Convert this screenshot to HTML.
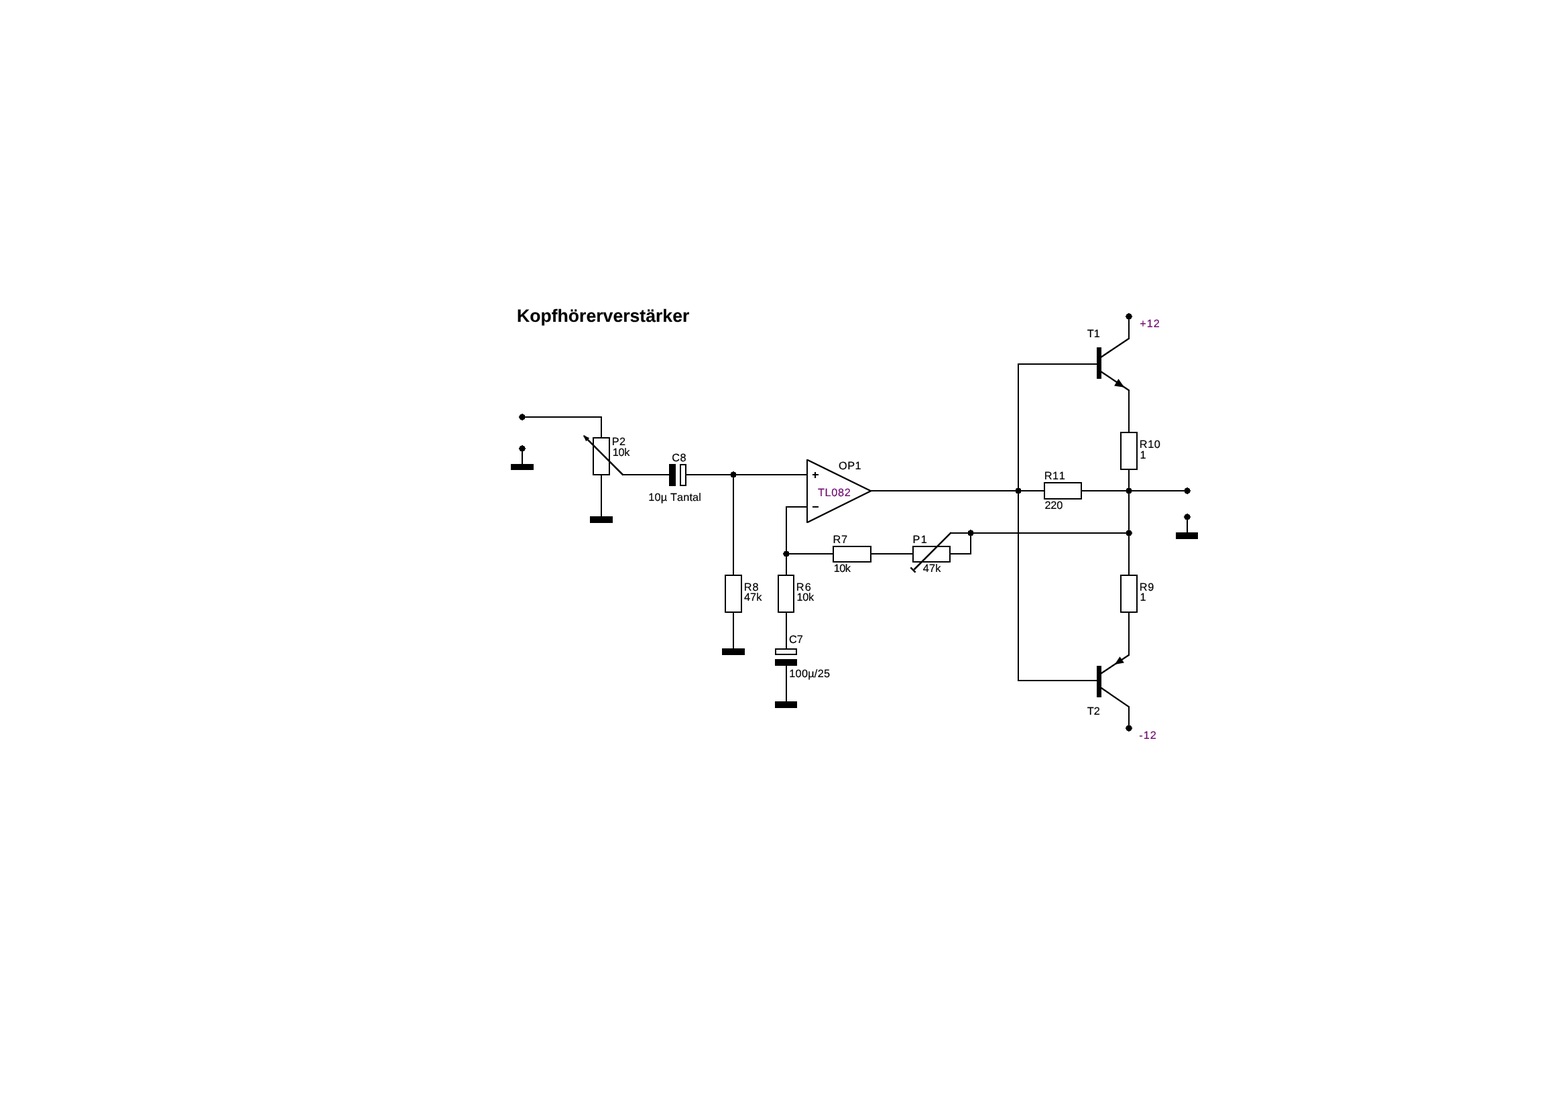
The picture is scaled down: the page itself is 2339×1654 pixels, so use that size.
<!DOCTYPE html>
<html lang="de"><head><meta charset="utf-8"><title>Kopfhörerverstärker</title>
<style>
html,body{margin:0;padding:0;background:#fff;}
body{width:2339px;height:1654px;overflow:hidden;}
svg{display:block;will-change:transform;}
text{font-family:"Liberation Sans",sans-serif;font-kerning:none;font-variant-ligatures:none;text-rendering:geometricPrecision;}
</style></head><body>
<svg width="2339" height="1654" viewBox="0 0 2339 1654">
<path d="M778,617h2v1h2v1h1v2h1v2h-1v2h-1v1h-2v1h-2v-1h-2v-1h-1v-2h-1v-2h1v-2h1v-1h2z" fill="#000"/>
<polyline points="779,622 897,622 897,653" stroke="#000" stroke-width="2" stroke-linejoin="miter" fill="none"/>
<path d="M778,664h2v1h2v1h1v2h1v2h-1v2h-1v1h-2v1h-2v-1h-2v-1h-1v-2h-1v-2h1v-2h1v-1h2z" fill="#000"/>
<line x1="779" y1="669" x2="779" y2="693" stroke="#000" stroke-width="2" />
<rect x="762" y="692" width="34" height="9" fill="#000"/>
<rect x="885.0" y="653.0" width="24" height="55" fill="#fff" stroke="#000" stroke-width="2"/>
<line x1="897" y1="708" x2="897" y2="771" stroke="#000" stroke-width="2" />
<rect x="880" y="770" width="34" height="10" fill="#000"/>
<line x1="1000" y1="708" x2="928.5" y2="708" stroke="#000" stroke-width="2" />
<line x1="929.5" y1="708.5" x2="871" y2="650" stroke="#000" stroke-width="2.5" />
<polygon points="870,649 874.2,658.2 879.2,653.2" fill="#000"/>
<rect x="998" y="692" width="10" height="33" fill="#000"/>
<rect x="1015.0" y="693.0" width="8" height="31" fill="#fff" stroke="#000" stroke-width="2"/>
<line x1="1024" y1="708" x2="1204" y2="708" stroke="#000" stroke-width="2" />
<path d="M1093,703h2v1h2v1h1v2h1v2h-1v2h-1v1h-2v1h-2v-1h-2v-1h-1v-2h-1v-2h1v-2h1v-1h2z" fill="#000"/>
<line x1="1094" y1="708" x2="1094" y2="858" stroke="#000" stroke-width="2" />
<rect x="1082.0" y="858.0" width="24" height="55" fill="#fff" stroke="#000" stroke-width="2"/>
<line x1="1094" y1="913" x2="1094" y2="968" stroke="#000" stroke-width="2" />
<rect x="1077" y="967" width="34" height="10" fill="#000"/>
<line x1="1204" y1="685" x2="1204" y2="780" stroke="#000" stroke-width="2" />
<clipPath id="opc"><rect x="1203" y="685" width="110" height="95"/></clipPath>
<polyline points="1201,684.2 1299.0,732.3 1201,780.8" fill="none" stroke="#000" stroke-width="2.3" stroke-linejoin="miter" stroke-miterlimit="10" clip-path="url(#opc)"/>
<rect x="1212" y="707" width="9" height="2" fill="#000"/>
<rect x="1215" y="704" width="2" height="9" fill="#000"/>
<rect x="1212" y="755" width="9" height="2" fill="#000"/>
<polyline points="1204,756 1173,756 1173,858" stroke="#000" stroke-width="2" stroke-linejoin="miter" fill="none"/>
<path d="M1172,821h2v1h2v1h1v2h1v2h-1v2h-1v1h-2v1h-2v-1h-2v-1h-1v-2h-1v-2h1v-2h1v-1h2z" fill="#000"/>
<line x1="1173" y1="826" x2="1243" y2="826" stroke="#000" stroke-width="2" />
<rect x="1243.0" y="815.0" width="56" height="23" fill="#fff" stroke="#000" stroke-width="2"/>
<line x1="1299" y1="826" x2="1362" y2="826" stroke="#000" stroke-width="2" />
<rect x="1362.0" y="815.0" width="55" height="23" fill="#fff" stroke="#000" stroke-width="2"/>
<polyline points="1417,826 1448,826 1448,795" stroke="#000" stroke-width="2" stroke-linejoin="miter" fill="none"/>
<path d="M1447,790h2v1h2v1h1v2h1v2h-1v2h-1v1h-2v1h-2v-1h-2v-1h-1v-2h-1v-2h1v-2h1v-1h2z" fill="#000"/>
<line x1="1684" y1="795" x2="1418" y2="795" stroke="#000" stroke-width="2" />
<line x1="1418.9" y1="794.1" x2="1363.5" y2="849.5" stroke="#000" stroke-width="2.5" />
<line x1="1358.4" y1="846.3" x2="1365.6" y2="853.7" stroke="#000" stroke-width="2.5" />
<rect x="1161.0" y="858.0" width="23" height="55" fill="#fff" stroke="#000" stroke-width="2"/>
<line x1="1173" y1="913" x2="1173" y2="968" stroke="#000" stroke-width="2" />
<rect x="1157.0" y="968.0" width="31" height="8" fill="#fff" stroke="#000" stroke-width="2"/>
<rect x="1156" y="983" width="33" height="10" fill="#000"/>
<line x1="1173" y1="992" x2="1173" y2="1047" stroke="#000" stroke-width="2" />
<rect x="1156" y="1046" width="33" height="10" fill="#000"/>
<line x1="1297" y1="732" x2="1771" y2="732" stroke="#000" stroke-width="2" />
<path d="M1518,727h2v1h2v1h1v2h1v2h-1v2h-1v1h-2v1h-2v-1h-2v-1h-1v-2h-1v-2h1v-2h1v-1h2z" fill="#000"/>
<path d="M1683,727h2v1h2v1h1v2h1v2h-1v2h-1v1h-2v1h-2v-1h-2v-1h-1v-2h-1v-2h1v-2h1v-1h2z" fill="#000"/>
<path d="M1770,727h2v1h2v1h1v2h1v2h-1v2h-1v1h-2v1h-2v-1h-2v-1h-1v-2h-1v-2h1v-2h1v-1h2z" fill="#000"/>
<rect x="1558.0" y="720.0" width="55" height="24" fill="#fff" stroke="#000" stroke-width="2"/>
<path d="M1683,790h2v1h2v1h1v2h1v2h-1v2h-1v1h-2v1h-2v-1h-2v-1h-1v-2h-1v-2h1v-2h1v-1h2z" fill="#000"/>
<path d="M1770,766h2v1h2v1h1v2h1v2h-1v2h-1v1h-2v1h-2v-1h-2v-1h-1v-2h-1v-2h1v-2h1v-1h2z" fill="#000"/>
<line x1="1771" y1="771" x2="1771" y2="795" stroke="#000" stroke-width="2" />
<rect x="1754" y="794" width="33" height="10" fill="#000"/>
<polyline points="1637,543 1519,543 1519,1015 1637,1015" stroke="#000" stroke-width="2" stroke-linejoin="miter" fill="none"/>
<rect x="1636" y="518" width="7" height="47" fill="#000"/>
<line x1="1684" y1="472" x2="1684" y2="505.4" stroke="#000" stroke-width="2" />
<line x1="1642" y1="533" x2="1684.6" y2="504.4" stroke="#000" stroke-width="2.35" />
<path d="M1683,467h2v1h2v1h1v2h1v2h-1v2h-1v1h-2v1h-2v-1h-2v-1h-1v-2h-1v-2h1v-2h1v-1h2z" fill="#000"/>
<line x1="1684" y1="581.4" x2="1684" y2="645" stroke="#000" stroke-width="2" />
<line x1="1642" y1="554" x2="1684.6" y2="582.4" stroke="#000" stroke-width="2.35" />
<polygon points="1677.3,577.7 1668.4,565 1662.1,575.6" fill="#000"/>
<rect x="1672.0" y="645.0" width="24" height="55" fill="#fff" stroke="#000" stroke-width="2"/>
<line x1="1684" y1="700" x2="1684" y2="858" stroke="#000" stroke-width="2" />
<rect x="1672.0" y="858.0" width="24" height="55" fill="#fff" stroke="#000" stroke-width="2"/>
<rect x="1636" y="993" width="7" height="47" fill="#000"/>
<line x1="1684" y1="913" x2="1684" y2="977.4" stroke="#000" stroke-width="2" />
<line x1="1684.6" y1="976.4" x2="1642" y2="1004.7" stroke="#000" stroke-width="2.35" />
<polygon points="1662.8,990.9 1670.4,979.2 1676.9,988.4" fill="#000"/>
<line x1="1684" y1="1053.6" x2="1684" y2="1086" stroke="#000" stroke-width="2" />
<line x1="1642" y1="1025.5" x2="1684.6" y2="1054.6" stroke="#000" stroke-width="2.35" />
<path d="M1683,1081h2v1h2v1h1v2h1v2h-1v2h-1v1h-2v1h-2v-1h-2v-1h-1v-2h-1v-2h1v-2h1v-1h2z" fill="#000"/>
<text x="771.0" y="480.2" font-size="26.62" fill="#000" stroke="#000" stroke-width="0.15" font-weight="bold">Kopfhörerverstärker</text>
<text x="912.86" y="664.0" font-size="16.3" fill="#000" stroke="#000" stroke-width="0.2" font-weight="normal" letter-spacing="0.33">P2</text>
<text x="913.72" y="680.1" font-size="16.3" fill="#000" stroke="#000" stroke-width="0.2" font-weight="normal" letter-spacing="-0.25">10k</text>
<text x="1002.2" y="687.9" font-size="16.3" fill="#000" stroke="#000" stroke-width="0.2" font-weight="normal" letter-spacing="0.43">C8</text>
<text x="967.33" y="747.2" font-size="16.3" fill="#000" stroke="#000" stroke-width="0.2" font-weight="normal" letter-spacing="0.15">10µ Tantal</text>
<text x="1251.0" y="699.7" font-size="16.3" fill="#000" stroke="#000" stroke-width="0.2" font-weight="normal" letter-spacing="0.49">OP1</text>
<text x="1219.88" y="739.8" font-size="16.3" fill="#700a72" stroke="#700a72" stroke-width="0.2" font-weight="normal" letter-spacing="0.68">TL082</text>
<text x="1242.54" y="810.0" font-size="16.3" fill="#000" stroke="#000" stroke-width="0.2" font-weight="normal" letter-spacing="0.76">R7</text>
<text x="1243.63" y="853.2" font-size="16.3" fill="#000" stroke="#000" stroke-width="0.2" font-weight="normal" letter-spacing="-0.49">10k</text>
<text x="1361.54" y="810.1" font-size="16.3" fill="#000" stroke="#000" stroke-width="0.2" font-weight="normal" letter-spacing="1.32">P1</text>
<text x="1376.86" y="852.8" font-size="16.3" fill="#000" stroke="#000" stroke-width="0.2" font-weight="normal" letter-spacing="0.08">47k</text>
<text x="1109.86" y="880.8" font-size="16.3" fill="#000" stroke="#000" stroke-width="0.2" font-weight="normal" letter-spacing="0.99">R8</text>
<text x="1109.89" y="895.7" font-size="16.3" fill="#000" stroke="#000" stroke-width="0.2" font-weight="normal" letter-spacing="0.08">47k</text>
<text x="1187.72" y="881.0" font-size="16.3" fill="#000" stroke="#000" stroke-width="0.2" font-weight="normal" letter-spacing="1.39">R6</text>
<text x="1188.59" y="896.3" font-size="16.3" fill="#000" stroke="#000" stroke-width="0.2" font-weight="normal" letter-spacing="-0.35">10k</text>
<text x="1177.01" y="958.8" font-size="16.3" fill="#000" stroke="#000" stroke-width="0.2" font-weight="normal" letter-spacing="0.07">C7</text>
<text x="1177.28" y="1009.7" font-size="16.3" fill="#000" stroke="#000" stroke-width="0.2" font-weight="normal" letter-spacing="0.26">100µ/25</text>
<text x="1621.78" y="503.0" font-size="16.3" fill="#000" stroke="#000" stroke-width="0.2" font-weight="normal" letter-spacing="0.1">T1</text>
<text x="1700.26" y="487.8" font-size="16.3" fill="#700a72" stroke="#700a72" stroke-width="0.2" font-weight="normal" letter-spacing="0.91">+12</text>
<text x="1699.72" y="667.9" font-size="16.3" fill="#000" stroke="#000" stroke-width="0.2" font-weight="normal" letter-spacing="0.66">R10</text>
<text x="1700.6" y="684.1" font-size="16.3" fill="#000" stroke="#000" stroke-width="0.2" font-weight="normal">1</text>
<text x="1557.72" y="714.9" font-size="16.3" fill="#000" stroke="#000" stroke-width="0.2" font-weight="normal" letter-spacing="0.59">R11</text>
<text x="1558.41" y="758.9" font-size="16.3" fill="#000" stroke="#000" stroke-width="0.2" font-weight="normal" letter-spacing="-0.13">220</text>
<text x="1699.72" y="880.9" font-size="16.3" fill="#000" stroke="#000" stroke-width="0.2" font-weight="normal" letter-spacing="0.72">R9</text>
<text x="1700.6" y="895.8" font-size="16.3" fill="#000" stroke="#000" stroke-width="0.2" font-weight="normal">1</text>
<text x="1621.78" y="1066.2" font-size="16.3" fill="#000" stroke="#000" stroke-width="0.2" font-weight="normal" letter-spacing="-0.03">T2</text>
<text x="1699.37" y="1101.8" font-size="16.3" fill="#700a72" stroke="#700a72" stroke-width="0.2" font-weight="normal" letter-spacing="1.01">-12</text>
</svg>
</body></html>
